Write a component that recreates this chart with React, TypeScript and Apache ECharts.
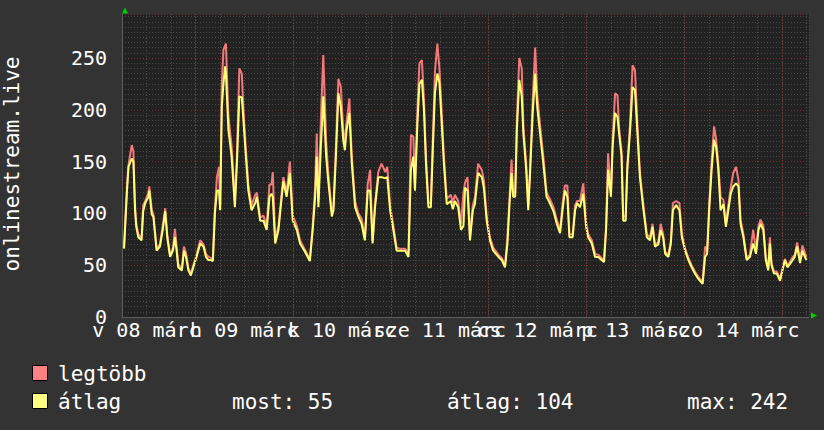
import { useEffect, useRef } from 'react';
import * as echarts from 'echarts';

// hours since 08 March 00:00
const hours = [
  6.5, 7.2, 7.6, 8.4, 8.8, 9.2, 9.5, 10.0, 10.8, 11.2, 11.7, 12.5, 12.7, 13.3, 13.7, 14.5, 15.3, 16.0, 16.6, 17.1,
  17.8, 18.5, 19.0, 19.4, 19.8, 20.7, 21.2, 21.7, 22.3, 22.9, 23.5, 24.3, 25.2, 26.0, 26.6, 27.2, 27.8, 28.3, 28.8, 29.3,
  29.8, 30.1, 30.5, 30.9, 31.3, 31.5, 32.1, 32.9, 33.7, 34.2, 34.8, 35.4, 35.8, 36.4, 37.0, 37.8, 38.7, 39.1, 39.9, 40.7,
  41.5, 42.2, 42.7, 43.0, 43.6, 44.4, 45.2, 45.6, 46.4, 47.2, 47.9, 48.9, 49.7, 50.9, 52.1, 52.8, 53.4, 53.8, 54.2, 54.8,
  55.4, 56.1, 56.6, 57.5, 57.9, 58.5, 59.1, 59.7, 60.3, 60.7, 61.1, 61.8, 62.4, 63.2, 64.0, 64.8, 65.6, 66.3, 66.9, 67.5,
  68.1, 68.9, 69.7, 70.6, 71.1, 71.8, 72.6, 73.4, 74.2, 75.5, 76.3, 76.9, 77.5, 77.9, 78.5, 79.0, 79.6, 80.1, 80.6, 81.2,
  81.8, 82.3, 82.8, 83.4, 83.9, 84.5, 85.0, 85.7, 86.7, 87.2, 87.7, 88.5, 89.2, 89.8, 90.2, 90.8, 91.4, 92.1, 92.6, 93.4,
  94.3, 94.8, 95.5, 96.3, 97.1, 98.6, 99.2, 100.0, 100.6, 101.1, 101.6, 102.0, 102.5, 102.9, 103.5, 104.1, 104.5, 105.2, 105.7, 106.1,
  106.8, 107.4, 107.9, 108.6, 109.4, 110.2, 111.0, 111.9, 112.7, 113.5, 114.2, 114.7, 115.3, 115.8, 116.6, 117.2, 117.7, 118.4, 119.2, 119.9,
  120.4, 121.3, 122.1, 122.9, 123.7, 124.3, 124.8, 125.3, 126.0, 126.4, 127.0, 127.6, 128.0, 128.6, 129.0, 129.6, 130.0, 130.7, 131.3, 131.9,
  132.5, 133.1, 133.9, 134.8, 135.6, 136.2, 136.8, 137.6, 138.2, 138.8, 139.3, 140.1, 140.7, 141.2, 142.0, 142.8, 143.4, 144.2, 145.0, 145.8,
  146.6, 147.4, 148.5, 149.1, 149.6, 150.1, 150.7, 151.3, 151.8, 152.3, 152.9, 153.6, 154.2, 154.8, 155.4, 156.0, 156.7, 157.3, 157.8, 158.5,
  159.3, 160.1, 160.9, 161.6, 162.2, 162.7, 163.4, 164.0, 164.6, 165.0, 165.4, 166.0, 166.7, 167.5, 168.1, 168.7, 169.3, 169.9, 170.6, 171.1,
  171.7, 172.4, 173.0, 173.6, 174.0,
];

const legtobbValues = [
  68, 125, 147, 166, 160, 108, 90, 80, 76, 108, 112, 120, 126, 104, 99, 66, 70, 88, 105, 80,
  60, 66, 85, 68, 51, 47, 68, 62, 47, 42, 50, 60, 74, 70, 61, 58, 57, 56, 105, 135,
  145, 108, 225, 258, 262, 264, 195, 165, 112, 155, 240, 235, 200, 162, 128, 108, 118, 120, 96, 98,
  88, 128, 128, 140, 75, 88, 120, 135, 120, 150, 98, 88, 74, 65, 56, 88, 126, 177, 112, 190,
  253, 170, 140, 100, 108, 165, 230, 222, 180, 168, 188, 211, 155, 112, 100, 95, 76, 128, 142, 74,
  110, 140, 148, 140, 145, 108, 88, 67, 66, 66, 60, 176, 174, 128, 200, 245, 248, 210, 155, 110,
  110, 175, 237, 264, 240, 195, 155, 114, 118, 110, 118, 112, 90, 120, 130, 135, 77, 108, 115, 148,
  142, 132, 97, 77, 67, 59, 57, 50, 78, 115, 152, 120, 120, 190, 250, 240, 185, 148, 108, 140,
  210, 260, 215, 185, 155, 120, 114, 106, 94, 84, 112, 127, 127, 80, 80, 108, 112, 112, 129, 92,
  80, 74, 61, 60, 57, 55, 88, 158, 120, 170, 216, 214, 182, 160, 97, 97, 146, 188, 243, 238,
  185, 140, 110, 80, 77, 90, 70, 72, 90, 80, 63, 60, 74, 110, 112, 110, 80, 66, 57, 50,
  44, 39, 34, 68, 64, 108, 150, 184, 172, 150, 116, 113, 90, 108, 125, 139, 145, 132, 94, 80,
  57, 60, 84, 64, 88, 94, 88, 58, 47, 77, 52, 44, 44, 37, 47, 56, 50, 53, 58, 60,
  72, 56, 69, 62, 58,
];

const atlagValues = [
  66, 120, 145, 153, 150, 103, 87, 77, 74, 102, 110, 116, 122, 99, 97, 64, 68, 84, 102, 77,
  58, 64, 77, 64, 48, 45, 64, 58, 45, 40, 48, 58, 71, 68, 58, 55, 55, 54, 100, 122,
  122, 103, 203, 225, 242, 235, 181, 155, 106, 148, 213, 212, 190, 155, 122, 103, 110, 116, 93, 93,
  84, 116, 119, 116, 71, 84, 116, 131, 116, 139, 93, 84, 71, 63, 54, 84, 116, 155, 106, 164,
  213, 155, 132, 97, 103, 155, 216, 203, 171, 161, 180, 197, 148, 106, 97, 90, 74, 122, 122, 71,
  106, 135, 135, 134, 135, 103, 84, 64, 64, 64, 58, 142, 155, 122, 187, 225, 229, 200, 148, 106,
  106, 164, 216, 235, 226, 184, 148, 109, 112, 104, 112, 106, 84, 88, 125, 122, 74, 103, 109, 139,
  135, 125, 93, 74, 64, 57, 55, 48, 71, 109, 139, 116, 116, 180, 229, 213, 177, 142, 103, 135,
  197, 235, 203, 177, 148, 116, 110, 102, 90, 81, 106, 122, 116, 77, 77, 103, 110, 106, 119, 87,
  77, 71, 58, 58, 55, 53, 84, 142, 116, 164, 197, 193, 177, 155, 93, 93, 142, 180, 222, 219,
  177, 135, 106, 77, 74, 87, 68, 70, 84, 77, 61, 58, 71, 103, 108, 103, 77, 64, 55, 48,
  42, 37, 32, 58, 61, 103, 142, 171, 164, 145, 103, 109, 87, 103, 119, 126, 129, 126, 90, 77,
  55, 58, 71, 61, 84, 90, 84, 55, 45, 71, 50, 42, 42, 35, 45, 55, 48, 51, 55, 58,
  68, 52, 64, 58, 55,
];

const dayLabels = ['v 08 márc', 'h 09 márc', 'k 10 márc', 'sze 11 márc', 'cs 12 márc', 'p 13 márc', 'szo 14 márc'];
const dayBoundaries = [24, 48, 72, 96, 120, 144, 168];
const seriesNames = ['legtöbb', 'átlag'];
const yAxisTitle = 'onlinestream.live';
const statNow = 55;
const statAvg = 104;
const statMax = 242;

const FONT = '"DejaVu Sans Mono", monospace';

export default function App() {
  const ref = useRef<HTMLDivElement>(null);

  useEffect(() => {
    const chart = echarts.init(ref.current!, null, { renderer: 'svg' });

    const legendText = (text: string, x: number, y: number) => ({
      type: 'text',
      x,
      y,
      style: {
        text,
        fontSize: 21,
        fontFamily: FONT,
        fill: '#ffffff',
        align: 'left',
        verticalAlign: 'middle',
      },
    });

    chart.setOption({
      animation: false,
      backgroundColor: '#333333',
      textStyle: { fontFamily: FONT },
      grid: {
        left: 122,
        right: 15,
        top: 14,
        bottom: 113,
        show: true,
        backgroundColor: '#222222',
        borderWidth: 0,
      },
      xAxis: {
        type: 'value',
        min: 6,
        max: 174.6,
        interval: 6,
        axisLine: { show: true, onZero: false, lineStyle: { color: '#5e5e5e', width: 1 } },
        axisTick: { show: false },
        splitLine: { show: true, lineStyle: { color: '#4c4c4c', type: [1, 2], width: 1 } },
        axisLabel: {
          color: '#ffffff',
          fontFamily: FONT,
          fontSize: 20,
          margin: 3,
          hideOverlap: false,
          formatter: (v: number) => {
            const r = ((v % 24) + 24) % 24;
            if (Math.abs(r - 12) < 0.01) {
              const idx = Math.round((v - 12) / 24);
              return dayLabels[idx] ?? '';
            }
            return '';
          },
        },
      },
      yAxis: [
        {
          type: 'value',
          min: 0,
          max: 292.5,
          interval: 5,
          axisLine: { show: false },
          axisTick: { show: false },
          axisLabel: { show: false },
          splitLine: { show: true, lineStyle: { color: '#474747', type: [1, 2], width: 1 } },
        },
        {
          type: 'value',
          min: 0,
          max: 292.5,
          interval: 50,
          position: 'left',
          axisLine: { show: true, lineStyle: { color: '#5e5e5e', width: 1 } },
          axisTick: { show: false },
          axisLabel: {
            color: '#ffffff',
            fontFamily: FONT,
            fontSize: 20,
            margin: 15,
            showMaxLabel: false,
          },
          splitLine: { show: true, lineStyle: { color: '#7a2f2f', type: [1, 2], width: 1 } },
        },
      ],
      series: [
        {
          type: 'line',
          name: 'days',
          data: [],
          z: 1,
          silent: true,
          markLine: {
            silent: true,
            symbol: ['none', 'none'],
            label: { show: false },
            lineStyle: { color: '#7a2f2f', type: [1, 2], width: 1 },
            data: dayBoundaries.map((d) => ({ xAxis: d })),
          },
        },
        {
          type: 'line',
          name: seriesNames[0],
          data: hours.map((h, i) => [h, legtobbValues[i]]),
          showSymbol: false,
          symbol: 'none',
          z: 3,
          lineStyle: { color: '#f47a7a', width: 2 },
          itemStyle: { color: '#f47a7a' },
        },
        {
          type: 'line',
          name: seriesNames[1],
          data: hours.map((h, i) => [h, atlagValues[i]]),
          showSymbol: false,
          symbol: 'none',
          z: 4,
          lineStyle: { color: '#ffff74', width: 2 },
          itemStyle: { color: '#ffff74' },
        },
      ],
      graphic: [
        {
          type: 'text',
          x: 12,
          y: 164,
          rotation: Math.PI / 2,
          style: {
            text: yAxisTitle,
            fontSize: 21,
            fontFamily: FONT,
            fill: '#ffffff',
            align: 'center',
            verticalAlign: 'middle',
          },
        },
        {
          type: 'polygon',
          shape: { points: [[122, 13.5], [128, 13.5], [125, 7.5]] },
          style: { fill: '#00d000' },
        },
        {
          type: 'polygon',
          shape: { points: [[811, 312.5], [811, 318.5], [817, 315.5]] },
          style: { fill: '#00d000' },
        },
        {
          type: 'rect',
          shape: { x: 32.5, y: 365.5, width: 15, height: 15 },
          style: { fill: '#ff8080', stroke: '#000000', lineWidth: 1 },
        },
        {
          type: 'rect',
          shape: { x: 32.5, y: 393.5, width: 15, height: 15 },
          style: { fill: '#ffff80', stroke: '#000000', lineWidth: 1 },
        },
        legendText(seriesNames[0], 58, 373.5),
        legendText(seriesNames[1], 58, 401.5),
        legendText(`most: ${statNow}`, 232, 401.5),
        legendText(`átlag: ${statAvg}`, 447, 401.5),
        legendText(`max: ${statMax}`, 687, 401.5),
      ],
    });

    return () => chart.dispose();
  }, []);

  return <div ref={ref} style={{ position: 'fixed', left: 0, top: 0, width: 824, height: 430 }} />;
}
